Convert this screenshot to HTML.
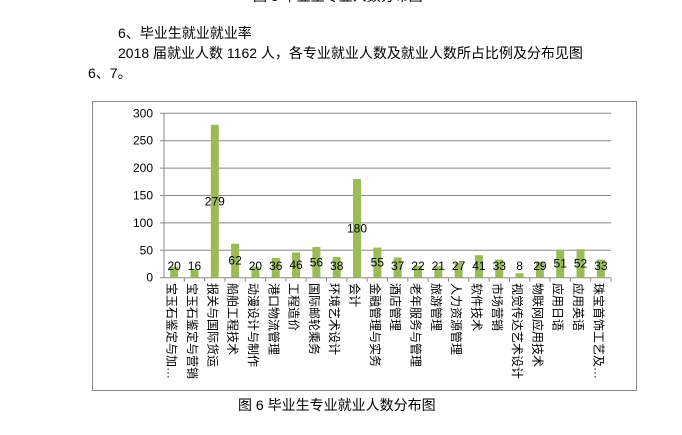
<!DOCTYPE html>
<html><head><meta charset="utf-8"><style>
html,body{margin:0;padding:0;background:#fff;width:682px;height:435px;overflow:hidden}
svg{display:block}
text{font-family:"Liberation Sans","Noto Sans CJK SC",sans-serif}
</style></head><body>
<svg width="682" height="435" viewBox="0 0 682 435" xmlns="http://www.w3.org/2000/svg">
<text x="253" y="1" font-size="14" fill="#000">图 5 毕业生专业人数分布图</text>
<text x="118" y="38" font-size="14" fill="#000">6、毕业生就业就业率</text>
<text x="118" y="58" font-size="14" fill="#000">2018 届就业人数 1162 人，各专业就业人数及就业人数所占比例及分布见图</text>
<text x="88" y="78" font-size="14" fill="#000">6、7。</text>
<rect x="92.5" y="101.5" width="544" height="289" fill="#fff" stroke="#888" stroke-width="1"/>
<g id="chart"></g>
<text x="238" y="410" font-size="14" fill="#000">图 6  毕业生专业就业人数分布图</text>
</svg>
<script>
var names=["宝玉石鉴定与加…","宝玉石鉴定与营销","报关与国际货运","船舶工程技术","动漫设计与制作","港口物流管理","工程造价","国际邮轮乘务","环境艺术设计","会计","金融管理与实务","酒店管理","老年服务与管理","旅游管理","人力资源管理","软件技术","市场营销","视觉传达艺术设计","物联网应用技术","应用日语","应用英语","珠宝首饰工艺及…"];
var vals=[20,16,279,62,20,36,46,56,38,180,55,37,22,21,27,41,33,8,29,51,52,33];
var g=document.getElementById('chart'),s='';
var x0=164,x1=611,y0=277.7,k=0.548,n=vals.length,w=(x1-x0)/n;
for(var v=0;v<=300;v+=50){var y=(y0-v*k).toFixed(1);
 if(v>0)s+='<line x1="'+x0+'" x2="'+x1+'" y1="'+y+'" y2="'+y+'" stroke="#888"/>';
 s+='<line x1="160" x2="'+x0+'" y1="'+y+'" y2="'+y+'" stroke="#888"/>';
 s+='<text x="153" y="'+(+y+4)+'" font-size="12" text-anchor="end" fill="#000">'+v+'</text>';}
s+='<line x1="'+x0+'" x2="'+x0+'" y1="113" y2="'+y0+'" stroke="#888"/>';
s+='<line x1="'+x0+'" x2="'+x1+'" y1="'+y0+'" y2="'+y0+'" stroke="#888"/>';
for(var i=0;i<n;i++){var c=x0+w*(i+0.5),h=vals[i]*k;
 s+='<rect x="'+(c-4)+'" y="'+(y0-h)+'" width="8" height="'+h+'" fill="#9bbb59"/>';
 var ly=Math.min(y0-h/2,266)+4;
 s+='<text x="'+c+'" y="'+ly+'" font-size="12" text-anchor="middle" fill="#000">'+vals[i]+'</text>';
 var tx=x0+w*(i+1);s+='<line x1="'+tx+'" x2="'+tx+'" y1="'+y0+'" y2="'+(y0+4)+'" stroke="#888"/>';
 s+='<text transform="translate('+(c-6.5)+',283) rotate(90)" font-size="12" fill="#000">'+names[i]+'</text>';}
g.innerHTML=s;
</script>
</body></html>
